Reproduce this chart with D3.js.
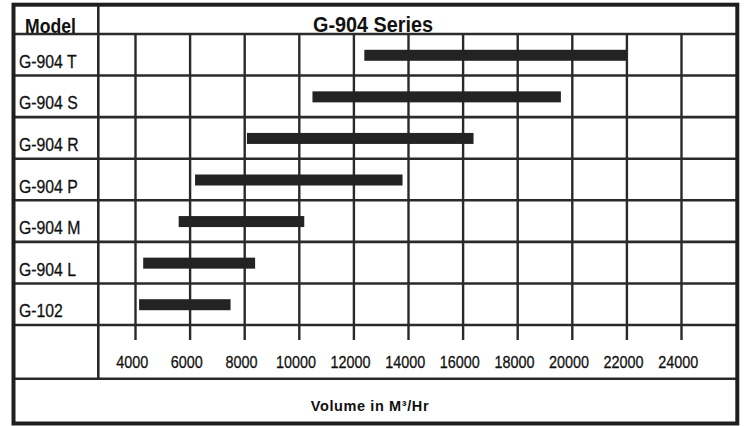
<!DOCTYPE html>
<html>
<head>
<meta charset="utf-8">
<script src="https://cdn.jsdelivr.net/npm/d3@7"></script>
<style>
html,body{margin:0;padding:0;background:#fff;}
svg{display:block;font-family:"Liberation Sans",Arial,sans-serif;}
</style>
</head>
<body>
<svg id="chart" width="746" height="426"></svg>
<script>
const models = ["G-904 T","G-904 S","G-904 R","G-904 P","G-904 M","G-904 L","G-102"];
const rangeStart = [12400,10500,8100,6200,5600,4300,4150];
const rangeEnd   = [22000,19600,16400,13800,10200,8400,7500];
const tickValues = [4000,6000,8000,10000,12000,14000,16000,18000,20000,22000,24000];
const title = "G-904 Series";
const headerLabel = "Model";
const axisTitle = "Volume in M³/Hr";

const svg = d3.select("#chart");
const lineColor = "#2a2a2a";
const textColor = "#111";

const box = {left:13.5, right:737.3, top:4.7, bottom:423.5};
const divX = 98.3;
const headerBottom = 34;
const rowsBottom = 325;
const axisRowBottom = 378.7;

const x = d3.scaleLinear().domain([4000,24000]).range([135,681]);
const y = d3.scaleBand().domain(models).range([headerBottom, rowsBottom]).padding(0);

// grid + ticks via axis
const axisG = svg.append("g").attr("transform",`translate(0,${headerBottom})`);
axisG.call(d3.axisBottom(x).tickValues(tickValues).tickSize(rowsBottom + 15 - headerBottom).tickFormat(d3.format("d")));
axisG.select(".domain").remove();
axisG.selectAll(".tick line").attr("stroke",lineColor).attr("stroke-width",2.4);
axisG.selectAll(".tick text")
  .attr("y",null).attr("dy",null)
  .attr("transform",`translate(-3.3,${368.3-headerBottom}) scale(1,1.19)`)
  .attr("fill",textColor).attr("stroke",textColor).attr("stroke-width",0.25)
  .style("font-size","14.4px")
  .style("font-family","'Liberation Sans',Arial,sans-serif")
  .attr("text-anchor","middle");

// horizontal row lines
const hLines = [headerBottom, ...models.slice(1).map(m=>y(m)), rowsBottom, axisRowBottom];
svg.append("g").selectAll("line").data(hLines).join("line")
  .attr("x1",box.left).attr("x2",box.right)
  .attr("y1",d=>d).attr("y2",d=>d)
  .attr("stroke",lineColor).attr("stroke-width",2.6);

// model column divider
svg.append("line").attr("x1",divX).attr("x2",divX).attr("y1",box.top).attr("y2",axisRowBottom)
  .attr("stroke",lineColor).attr("stroke-width",2.6);

// bars
const barData = models.map((m,i)=>({m, s:rangeStart[i], e:rangeEnd[i]}));
svg.append("g").selectAll("rect").data(barData).join("rect")
  .attr("x",d=>x(d.s)).attr("width",d=>x(d.e)-x(d.s))
  .attr("y",d=>y(d.m)+y.bandwidth()/2-5)
  .attr("height",11)
  .attr("fill","#232323");

// row labels
svg.append("g").selectAll("text").data(models).join("text")
  .attr("transform",d=>`translate(19,${y(d)+y.bandwidth()/2+13}) scale(1,1.18)`)
  .style("font-size","15.8px").attr("fill",textColor).attr("stroke",textColor).attr("stroke-width",0.25)
  .text(d=>d);

// header
svg.append("text").attr("transform",`translate(25,33) scale(1,1.13)`)
  .style("font-size","17.6px").style("font-weight","bold").attr("fill",textColor)
  .text(headerLabel);
svg.append("text").attr("transform",`translate(373,31.7) scale(1,1.07)`)
  .attr("text-anchor","middle")
  .style("font-size","19.8px").style("font-weight","bold").attr("fill",textColor)
  .text(title);

// axis title
svg.append("text").attr("x",370).attr("y",410.7).attr("text-anchor","middle")
  .style("font-size","14.5px").style("font-weight","bold").style("letter-spacing","0.6px")
  .attr("fill",textColor)
  .text(axisTitle);

// outer border
svg.append("rect").attr("x",box.left).attr("y",box.top)
  .attr("width",box.right-box.left).attr("height",box.bottom-box.top)
  .attr("fill","none").attr("stroke","#1e1e1e").attr("stroke-width",4);
</script>
</body>
</html>
